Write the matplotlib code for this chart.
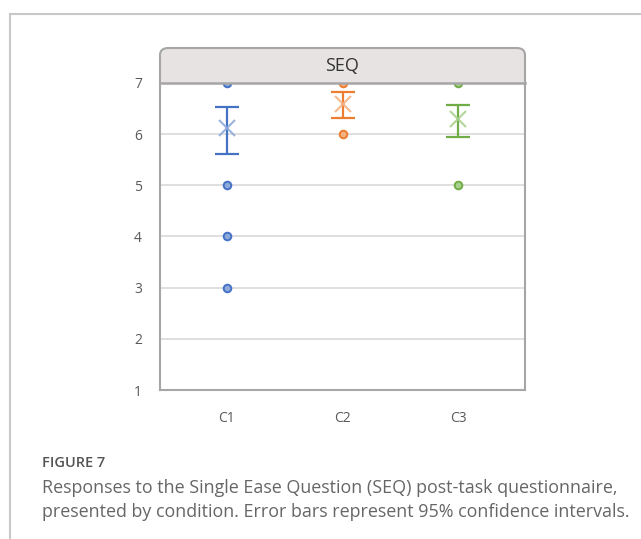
"""
SEQ responses per condition: raw points, means and 95% CIs
"""
import matplotlib.pyplot as plt
from matplotlib.patches import FancyBboxPatch
from matplotlib.lines import Line2D
from matplotlib.transforms import Bbox, TransformedBbox

plt.rcParams['font.family'] = ['Open Sans', 'DejaVu Sans']

conditions = ["C1", "C2", "C3"]
responses = [[7, 5, 4, 3], [7, 6], [7, 5]]
means = [6.12, 6.58, 6.30]
ci_low = [5.61, 6.31, 5.94]
ci_high = [6.54, 6.82, 6.57]

line_colors = ["#4472c4", "#ed7d31", "#70ad47"]
fill_colors = ["#8eaadb", "#f4b183", "#a9d18e"]

fig = plt.figure(figsize=(6.41, 5.39), dpi=100)
W, H = 641, 539

# outer figure frame (top and left rules)
fig.add_artist(Line2D([10 / W, 1], [1 - 14 / H, 1 - 14 / H], color="#c8c8c8", lw=1.5))
fig.add_artist(Line2D([10 / W, 10 / W], [1 - 14 / H, 1 - 538 / H], color="#c8c8c8", lw=1.5))

ax = fig.add_axes([160 / W, 1 - 390 / H, 365 / W, 307 / H])

# rounded header strip, drawn over the plot so points at 7 are half hidden
hdr = FancyBboxPatch((160 / W, 1 - 100 / H), 365 / W, 52 / H,
                     boxstyle="round,pad=0,rounding_size=0.013",
                     transform=fig.transFigure, facecolor="#e7e3e3",
                     edgecolor="#a6a6a6", lw=1.5, zorder=2)
hdr.set_clip_box(TransformedBbox(Bbox([[0, 1 - 83 / H], [1, 1]]), fig.transFigure))
fig.add_artist(hdr)
fig.add_artist(Line2D([160 / W, 525 / W], [1 - 83 / H, 1 - 83 / H],
                      color="#a6a6a6", lw=1.8, zorder=3))
fig.text((160 + 525) / 2 / W, 1 - 66 / H, "SEQ", ha="center", va="center",
         fontsize=13, color="#333333", zorder=4)

x = [1, 2, 3]
for i in range(3):
    ax.scatter([x[i]] * len(responses[i]), responses[i], s=30,
               facecolor=fill_colors[i], edgecolor=line_colors[i],
               linewidth=1.4, zorder=3)
    ax.errorbar(x[i], means[i],
                yerr=[[means[i] - ci_low[i]], [ci_high[i] - means[i]]],
                fmt="none", ecolor=line_colors[i], elinewidth=1.6,
                capsize=8.5, capthick=1.6, zorder=4)
    ax.plot(x[i], means[i], marker="x", markersize=11, mew=1.5,
            color=fill_colors[i], alpha=0.9, linestyle="none", zorder=5)

ax.set_xlim(0.42, 3.58)
ax.set_ylim(1, 7)
ax.set_yticks(range(1, 8))
ax.set_xticks(x)
ax.set_xticklabels(conditions)
ax.grid(axis="y", color="#d9d9d9", lw=1.2)
ax.set_axisbelow(True)
ax.tick_params(axis="both", length=0, labelsize=10, labelcolor="#595959")
ax.tick_params(axis="y", pad=13)
ax.tick_params(axis="x", pad=15)
for side in ax.spines.values():
    side.set_color("#a6a6a6")
    side.set_linewidth(1.5)

# caption
fig.text(42 / W, 1 - 463 / H, "FIGURE 7", fontsize=10.5, color="#555555",
         fontweight="semibold", va="center")
fig.text(42 / W, 1 - 488 / H,
         "Responses to the Single Ease Question (SEQ) post-task questionnaire,",
         fontsize=12.9, color="#666666", va="center")
fig.text(42 / W, 1 - 512 / H,
         "presented by condition. Error bars represent 95% confidence intervals.",
         fontsize=12.9, color="#666666", va="center")

plt.savefig("out.png", dpi=100)
